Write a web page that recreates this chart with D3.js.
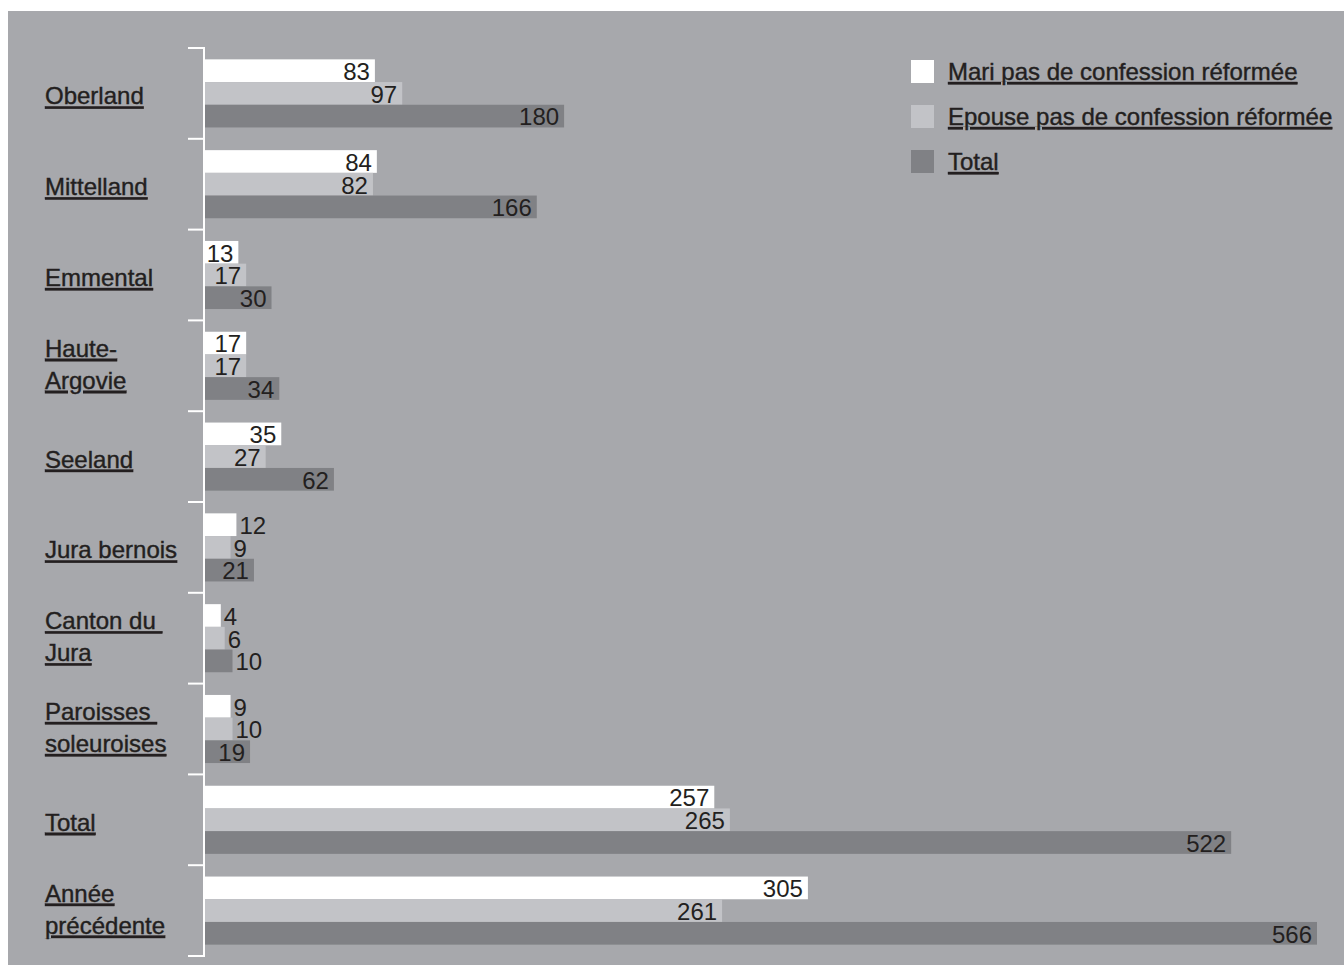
<!DOCTYPE html>
<html>
<head>
<meta charset="utf-8">
<script src="https://cdn.jsdelivr.net/npm/d3@7"></script>
<style>
  html, body { margin: 0; padding: 0; background: #ffffff; }
  text { font-family: "Liberation Sans", Arial, sans-serif; fill: #231f20; white-space: pre; }
</style>
</head>
<body>
<div id="chart"></div>
<script>
// Regionen (Zeilenumbruch mit \n)
const categories = ["Oberland", "Mittelland", "Emmental", "Haute-\nArgovie", "Seeland",
  "Jura bernois", "Canton du \nJura", "Paroisses \nsoleuroises", "Total", "Année\nprécédente"]
const seriesNames = ["Mari pas de confession réformée", "Epouse pas de confession réformée", "Total"]
const mari   = [83, 84, 13, 17, 35, 12, 4, 9, 257, 305]
const epouse = [97, 82, 17, 17, 27, 9, 6, 10, 265, 261]
const total  = [180, 166, 30, 34, 62, 21, 10, 19, 522, 566]

const colors = ["#ffffff", "#c2c3c7", "#808185"]
const width = 1344, height = 970

const svg = d3.select("#chart").append("svg")
  .attr("width", width)
  .attr("height", height)

// grauer Hintergrund
svg.append("rect")
  .attr("x", 8).attr("y", 11)
  .attr("width", width - 8).attr("height", 954)
  .attr("fill", "#a7a8ac")

const rows = categories.map((c, i) => ({cat: c, values: [mari[i], epouse[i], total[i]]}))

const y0 = d3.scaleBand().domain(categories).range([48, 956]).padding(0)
const y1 = d3.scaleBand().domain(seriesNames).range([0, y0.bandwidth()]).paddingOuter(0.5).paddingInner(0)
const x = d3.scaleLinear().domain([0, 566]).range([213, 1317])
const axisX = 205

// Balken
const group = svg.selectAll(".group")
  .data(rows)
  .enter().append("g")
  .attr("class", "group")
  .attr("transform", d => `translate(0, ${y0(d.cat)})`)

group.selectAll("rect")
  .data(d => d.values.map((v, j) => ({v: v, name: seriesNames[j], j: j})))
  .enter().append("rect")
  .attr("x", axisX)
  .attr("y", d => y1(d.name))
  .attr("width", d => x(d.v) - axisX)
  .attr("height", y1.bandwidth())
  .attr("fill", d => colors[d.j])

// Werte: innen rechtsbündig, bei kurzen Balken dahinter
const inside = d => x(d.v) - axisX >= 32
group.selectAll(".val")
  .data(d => d.values.map((v, j) => ({v: v, name: seriesNames[j], j: j})))
  .enter().append("text")
  .attr("class", "val")
  .attr("font-size", 24)
  .attr("y", d => y1(d.name) + y1.bandwidth() - 2)
  .attr("x", d => inside(d) ? x(d.v) - 5 : x(d.v) + 3)
  .attr("text-anchor", d => inside(d) ? "end" : "start")
  .text(d => d.v)

// Achse mit Ticks
svg.append("line")
  .attr("x1", axisX - 1).attr("x2", axisX - 1)
  .attr("y1", y0.range()[0]).attr("y2", y0.range()[1])
  .attr("stroke", "#ffffff").attr("stroke-width", 2)

const tickYs = categories.map(c => y0(c)).concat([y0.range()[1]])
svg.selectAll(".tick")
  .data(tickYs)
  .enter().append("line")
  .attr("x1", 188).attr("x2", axisX)
  .attr("y1", d => d).attr("y2", d => d)
  .attr("stroke", "#ffffff").attr("stroke-width", 2)

// Kategorienbeschriftung
const lab = svg.selectAll(".cat")
  .data(categories)
  .enter().append("text")
  .attr("class", "cat")
  .attr("font-size", 24)
  .attr("stroke", "#231f20").attr("stroke-width", 0.4)
  .attr("text-decoration", "underline")
  .attr("transform", d => `translate(45, ${y0(d) + y0.bandwidth() / 2})`)

lab.each(function(d) {
  const lines = d.split("\n")
  const t = d3.select(this)
  lines.forEach((l, k) => {
    const dy = lines.length === 1 ? 11 : (k === 0 ? -9 : 23)
    t.append("tspan").attr("x", 0).attr("y", dy).text(l)
  })
})

// Legende
const legend = svg.selectAll(".legend")
  .data(seriesNames)
  .enter().append("g")
  .attr("class", "legend")
  .attr("transform", (d, i) => `translate(911, ${60 + i * 45})`)

legend.append("rect")
  .attr("width", 23).attr("height", 23)
  .attr("fill", (d, i) => colors[i])

legend.append("text")
  .attr("x", 37).attr("y", 20)
  .attr("font-size", 24)
  .attr("stroke", "#231f20").attr("stroke-width", 0.4)
  .attr("text-decoration", "underline")
  .text(d => d)
</script>
</body>
</html>
